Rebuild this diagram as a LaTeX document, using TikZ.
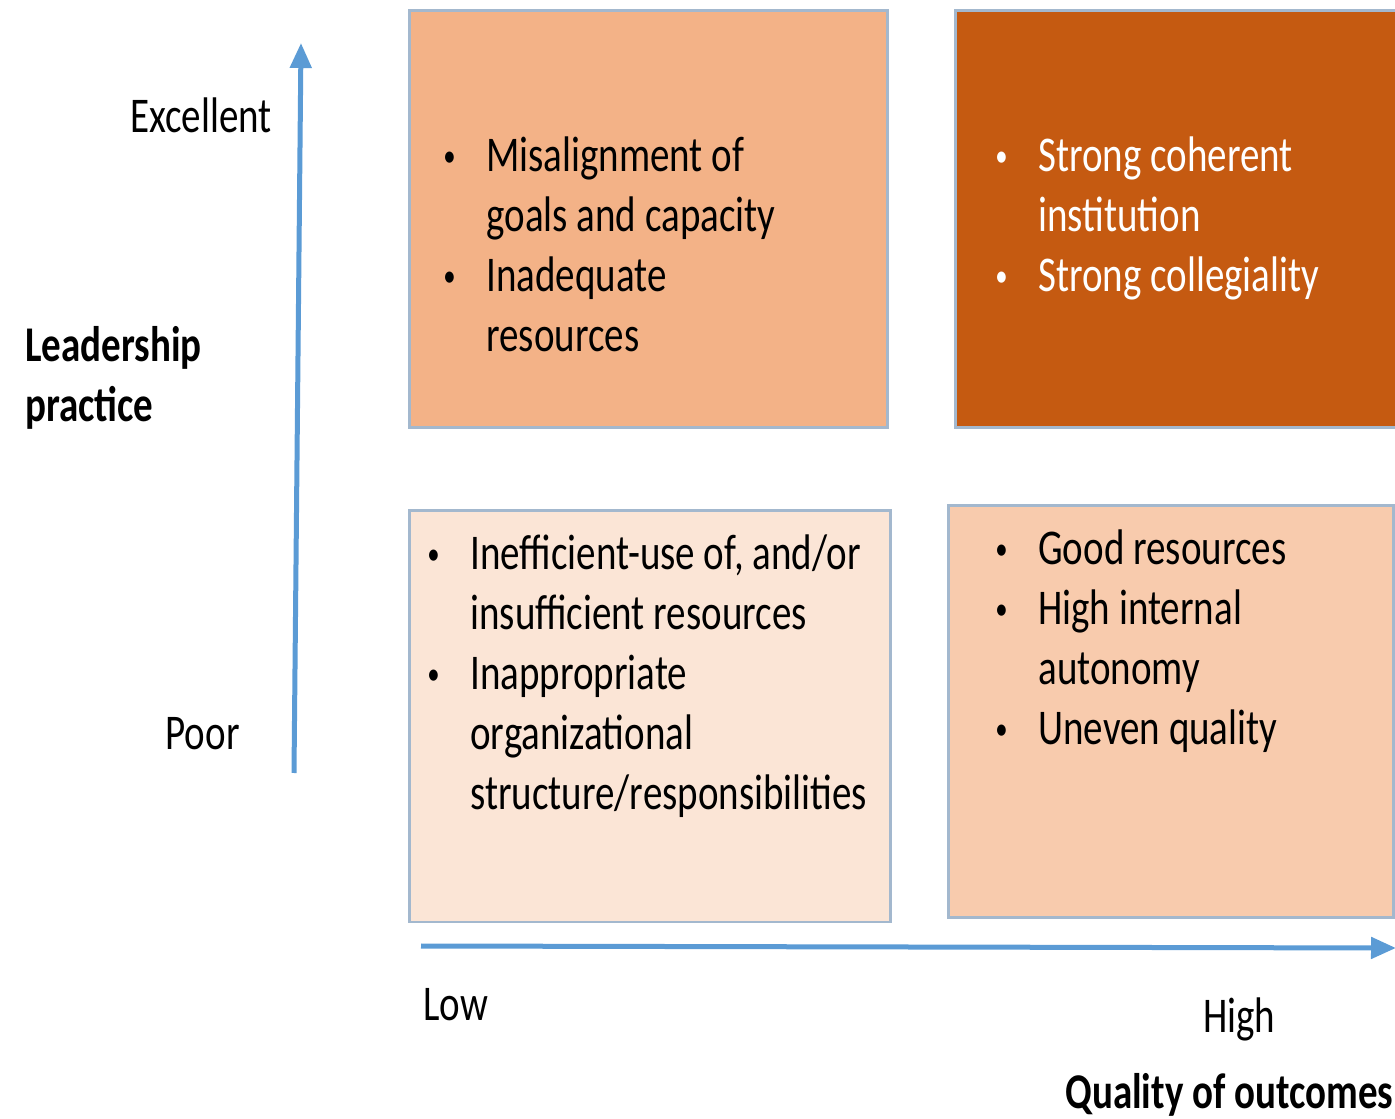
\documentclass[tikz,border=0pt]{standalone}
\usepackage{fontspec}
\setmainfont{Carlito}[FakeStretch=0.78]
\usepackage{tikz}
\usetikzlibrary{arrows.meta}
\definecolor{boxedge}{HTML}{A3B8CE}
\definecolor{axisblue}{HTML}{5B9BD5}
\definecolor{peach}{HTML}{F3B287}
\definecolor{rust}{HTML}{C55A11}
\definecolor{paleorange}{HTML}{FBE5D6}
\definecolor{lightorange}{HTML}{F8CBAD}
\newcommand{\bul}{\makebox[0.9cm][l]{\hspace{0.04cm}\raisebox{0.11cm}{\fontsize{18}{18}\selectfont\textbullet}}}
\begin{document}
\begin{tikzpicture}[x=1cm, y=1cm,
    cell/.style={draw=boxedge, line width=0.06cm},
    axis/.style={axisblue, line width=0.1cm, -{Triangle[width=0.42cm,length=0.5cm]}},
    lbl/.style={inner sep=0, font=\fontsize{28.45}{34.14}\selectfont},
    list/.style={lbl, anchor=base west}]
\useasboundingbox (0,0) rectangle (27.9,-22.38);
% quadrants
\filldraw[cell, fill=peach] (8.18,-0.22) rectangle (17.74,-8.56);
\filldraw[cell, fill=rust] (19.10,-0.22) rectangle (28.2,-8.56);
\filldraw[cell, fill=paleorange] (8.18,-10.22) rectangle (17.80,-18.44);
\filldraw[cell, fill=lightorange] (18.96,-10.12) rectangle (27.86,-18.36);
% axes
\coordinate (ybot) at (5.88,-15.46);
\coordinate (ytop) at (6.02,-0.86);
\coordinate (xleft) at (8.42,-18.92);
\coordinate (xright) at (27.92,-18.96);
\draw[axis] (ybot) -- (ytop);
\draw[axis] (xleft) -- (xright);
% axis labels
\node[lbl, anchor=base east] (excellent) at (5.44,-2.66) {Excellent};
\node[lbl, anchor=base east] (poor) at (4.80,-15.0) {Poor};
\node[list] (leadership) at (0.5,-7.24) {\bfseries\begin{tabular}[t]{@{}l@{}}Leadership\\ practice\end{tabular}};
\node[list] (low) at (8.46,-20.4) {Low};
\node[list] (high) at (24.06,-20.64) {High};
\node[list, font=\fontsize{28.45}{34.14}\selectfont\bfseries] (quality) at (21.3,-22.16) {Quality of outcomes};
% quadrant texts
\node[list] (tltext) at (8.82,-3.44) {\begin{tabular}[t]{@{}l@{}l@{}}
  \bul & Misalignment of\\
       & goals and capacity\\
  \bul & Inadequate\\
       & resources
\end{tabular}};
\node[list, text=white] (trtext) at (19.86,-3.44) {\begin{tabular}[t]{@{}l@{}l@{}}
  \bul & Strong coherent\\
       & institution\\
  \bul & Strong collegiality
\end{tabular}};
\node[list] (bltext) at (8.50,-11.4) {\begin{tabular}[t]{@{}l@{}l@{}}
  \bul & Inefficient-use of, and/or\\
       & insufficient resources\\
  \bul & Inappropriate\\
       & organizational\\
       & structure/responsibilities
\end{tabular}};
\node[list] (brtext) at (19.86,-11.3) {\begin{tabular}[t]{@{}l@{}l@{}}
  \bul & Good resources\\
  \bul & High internal\\
       & autonomy\\
  \bul & Uneven quality
\end{tabular}};
\end{tikzpicture}
\end{document}
